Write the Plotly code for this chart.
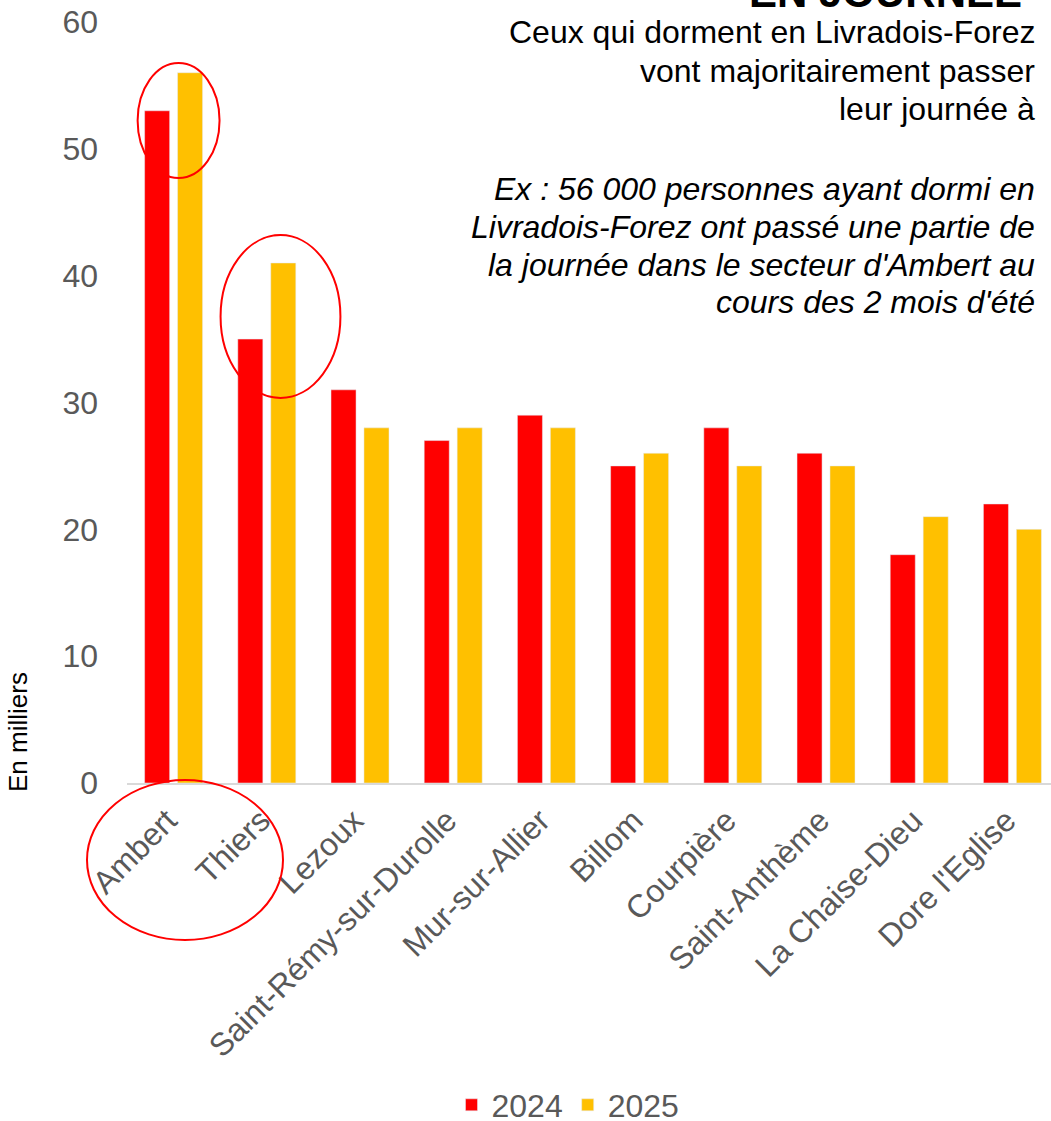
import plotly.graph_objects as go

categories = ["Ambert", "Thiers", "Lezoux", "Saint-Rémy-sur-Durolle", "Mur-sur-Allier",
              "Billom", "Courpière", "Saint-Anthème", "La Chaise-Dieu", "Dore l'Eglise"]
values_2024 = [53, 35, 31, 27, 29, 25, 28, 26, 18, 22]
values_2025 = [56, 41, 28, 28, 28, 26, 25, 25, 21, 20]
series_names = ["2024", "2025"]
y_ticks = [0, 10, 20, 30, 40, 50, 60]

text_lines = [
    ("Ceux qui dorment en Livradois-Forez", False),
    ("vont majoritairement passer", False),
    ("leur journée à", False),
    ("Ex : 56 000 personnes ayant dormi en", True),
    ("Livradois-Forez ont passé une partie de", True),
    ("la journée dans le secteur d'Ambert au", True),
    ("cours des 2 mois d'été", True),
]
line_centers_px = [32.5, 70.5, 108.5, 189, 227, 264.5, 302]

FONT = "Arial, Liberation Sans, sans-serif"
GREY = "#595959"

W, H = 1051, 1121
ML, MR, MT, MB = 127, 0, 22, 338
PH = H - MT - MB
PW = W - ML - MR

def py(p):
    return (H - MB - p) / PH

def px(p):
    return (p - ML) / PW

fig = go.Figure()
fig.add_trace(go.Bar(x=categories, y=values_2024, name=series_names[0], marker_color="#FF0000"))
fig.add_trace(go.Bar(x=categories, y=values_2025, name=series_names[1], marker_color="#FFC000"))

annotations = []
for (txt, ital), c in zip(text_lines, line_centers_px):
    t = f"<i>{txt}</i>" if ital else txt
    annotations.append(dict(text=t, xref="paper", yref="paper", x=px(1037), y=py(c),
                            xanchor="right", yanchor="middle", showarrow=False,
                            font=dict(family=FONT, size=32, color="black")))
annotations.append(dict(text="<b>EN JOURNÉE</b>", xref="paper", yref="paper", x=px(1024), y=py(-8),
                        xanchor="right", yanchor="middle", showarrow=False,
                        font=dict(family=FONT, size=42, color="black")))
annotations.append(dict(text="En milliers", xref="paper", yref="paper", x=px(18), y=py(732),
                        xanchor="center", yanchor="middle", showarrow=False, textangle=-90,
                        font=dict(family=FONT, size=26, color="black")))

shapes = [
    dict(type="circle", xref="x", yref="y", x0=-0.386, x1=0.493, y0=47.7, y1=56.77,
         line=dict(color="#FF0000", width=2)),
    dict(type="circle", xref="x", yref="y", x0=0.504, x1=1.79, y0=30.36, y1=43.2,
         line=dict(color="#FF0000", width=2)),
    dict(type="circle", xref="paper", yref="paper", x0=px(87), x1=px(283), y0=py(940), y1=py(780),
         line=dict(color="#FF0000", width=2)),
]

fig.update_layout(
    width=W, height=H,
    margin=dict(l=ML, r=MR, t=MT, b=MB, pad=0, autoexpand=False),
    paper_bgcolor="white", plot_bgcolor="white",
    barmode="group", bargap=0.293, bargroupgap=0.24,
    font=dict(family=FONT, size=32, color=GREY),
    showlegend=True,
    legend=dict(orientation="h", x=px(568), y=py(1105), xanchor="center", yanchor="middle",
                font=dict(family=FONT, size=32, color=GREY), traceorder="normal"),
    annotations=annotations,
    shapes=shapes,
)
fig.update_xaxes(type="category", range=[-0.5, 9.414], tickangle=-45, showgrid=False,
                 showline=True, linecolor="#D9D9D9", linewidth=2, ticks="", automargin=False,
                 tickfont=dict(family=FONT, size=32, color=GREY),
                 ticklabelstandoff=4, ticklabelshift=-6)
fig.update_yaxes(range=[0, 60], tickvals=y_ticks, showgrid=False, zeroline=False,
                 showline=False, ticks="", ticklabelstandoff=28, automargin=False,
                 tickfont=dict(family=FONT, size=32, color=GREY))

fig.write_html("out.html", config={"displayModeBar": False},
               post_script="document.body.style.margin='0';document.body.style.overflow='hidden';")
